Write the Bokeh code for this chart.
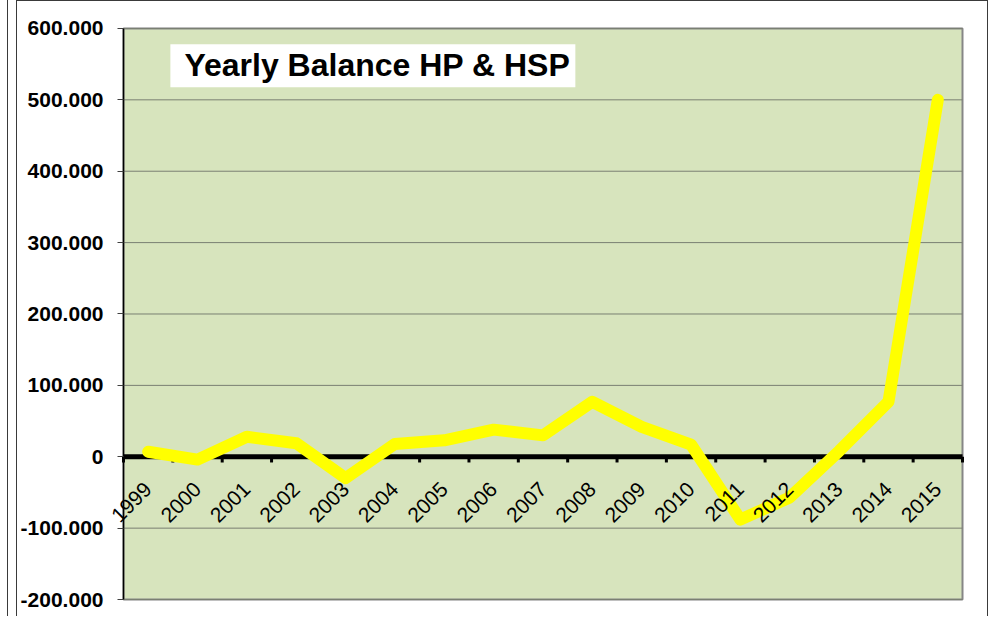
import math
from bokeh.plotting import figure
from bokeh.models import Range1d, FixedTicker, Label, LinearAxis, BoxAnnotation
from bokeh.embed import file_html
from bokeh.resources import INLINE

years = ["1999", "2000", "2001", "2002", "2003", "2004", "2005", "2006", "2007",
         "2008", "2009", "2010", "2011", "2012", "2013", "2014", "2015"]
balance = [7000, -4000, 28000, 19000, -30000, 18000, 23000, 38000, 30000,
           77000, 42000, 17000, -88000, -57000, 8000, 77000, 500000]
y_ticks = [-200000, -100000, 0, 100000, 200000, 300000, 400000, 500000, 600000]
y_tick_labels = ["-200.000", "-100.000", "0", "100.000", "200.000", "300.000",
                 "400.000", "500.000", "600.000"]
title_text = "Yearly Balance HP & HSP"

W, H = 972, 616
n = len(years)
centers = [i + 0.5 for i in range(n)]
bounds = list(range(n + 1))
ymin, ymax = y_ticks[0], y_ticks[-1]

# layout: plot area spans 839 px for the categories and 572 px for the value range;
# the frame covers the whole canvas so that tick labels are never clipped
px_per_cat = 839 / n
px_per_val = 572 / (ymax - ymin)
x_start = -106 / px_per_cat
x_end = n + 27 / px_per_cat
y_end = ymax + 27 / px_per_val
y_start = ymin - (H - 598) / px_per_val

p = figure(width=W, height=H, output_backend="svg", toolbar_location=None,
           x_axis_type=None, y_axis_type=None,
           x_range=Range1d(x_start, x_end), y_range=Range1d(y_start, y_end),
           min_border=0)
p.styles = {"margin-left": "16px", "border-left": "1px solid #3a3a3a",
            "border-right": "1px solid #3a3a3a", "border-top": "1px solid #3a3a3a",
            "box-shadow": "-8px 0 0 0 white, -9px 0 0 0 #3a3a3a"}

p.background_fill_color = "white"
p.border_fill_color = "white"
p.outline_line_color = None

# plot area
p.add_layout(BoxAnnotation(left=0, right=n, bottom=ymin, top=ymax,
                           fill_color="#D7E4BD", fill_alpha=1.0,
                           line_color="#868686", line_width=2, line_alpha=1.0,
                           level="underlay"))

# horizontal grid lines
p.segment(x0=[0] * len(y_ticks), y0=y_ticks, x1=[n] * len(y_ticks), y1=y_ticks,
          line_color="#7A7F72", line_width=1)

# value axis
ya = LinearAxis(fixed_location=0, bounds=(ymin, ymax),
                ticker=FixedTicker(ticks=y_ticks),
                major_label_overrides=dict(zip(y_ticks, y_tick_labels)),
                minor_tick_line_color=None, major_tick_in=0, major_tick_out=6,
                major_tick_line_color="#404040", axis_line_color="black",
                axis_line_width=1.5, major_label_text_font="Liberation Sans",
                major_label_text_font_style="bold",
                major_label_text_font_size="21px", major_label_standoff=14,
                major_label_text_color="black")
p.add_layout(ya, "left")

# zero line with category boundary ticks
p.segment(x0=[bounds[0]], y0=[0], x1=[bounds[-1]], y1=[0],
          line_color="black", line_width=5)
p.segment(x0=bounds, y0=[0] * len(bounds), x1=bounds, y1=[-8000] * len(bounds),
          line_color="black", line_width=3)

p.line(x=centers, y=balance, line_color="#FFFF00", line_width=12,
       line_cap="round", line_join="round")

# category labels on an axis fixed at y = 0
xa = LinearAxis(fixed_location=0, ticker=FixedTicker(ticks=centers),
                major_label_overrides=dict(zip(centers, years)),
                major_label_orientation=math.pi / 4,
                major_label_standoff=23,
                major_label_text_font="Liberation Sans",
                major_label_text_font_size="21px",
                major_label_text_color="black",
                axis_line_color=None, major_tick_line_color=None,
                minor_tick_line_color=None)
p.add_layout(xa, "below")

p.add_layout(Label(x=0.95, y=547600, text=title_text,
                   text_font="Liberation Sans", text_font_style="bold",
                   text_font_size="32px", text_baseline="middle",
                   text_align="left", text_color="black",
                   background_fill_color="white",
                   padding=dict(left=14, right=5, top=3, bottom=4)))

open("out.html", "w").write(file_html(p, INLINE))
